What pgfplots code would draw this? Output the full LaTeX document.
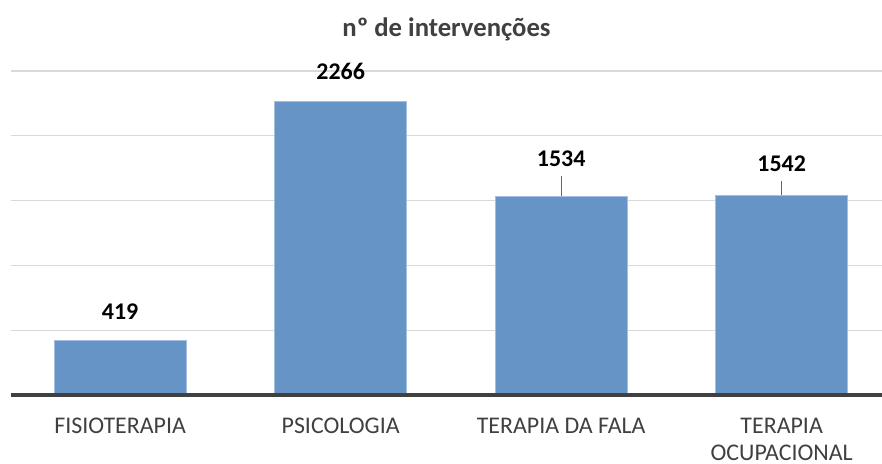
\documentclass[border=0pt]{standalone}
\usepackage{pgfplots}
\pgfplotsset{compat=1.18}
\usepackage{fontspec}
\setmainfont{Carlito}

\definecolor{barblue}{HTML}{6794C7}
\definecolor{baredge}{HTML}{A3BFE2}
\definecolor{txtgray}{HTML}{404040}
\definecolor{gridgray}{HTML}{D9D9D9}

\begin{document}
\begin{tikzpicture}
\begin{axis}[
    name=ax,
    scale only axis,
    width=435.5bp,
    height=162bp,
    ymin=0, ymax=2500,
    xmin=-0.495, xmax=3.455,
    ytick={500,1000,1500,2000,2500},
    yticklabels={},
    major tick length=0pt,
    ymajorgrids,
    grid style={gridgray, line width=0.6bp},
    axis line style={draw=none},
    xtick=data,
    xticklabels={FISIOTERAPIA, PSICOLOGIA, TERAPIA DA FALA, {TERAPIA\\OCUPACIONAL}},
    x tick label style={font=\fontsize{12}{13.5}\selectfont, text=txtgray, align=center, anchor=north, yshift=-8bp},
    title={\textbf{nº de intervenções}},
    title style={font=\fontsize{13.4}{15}\selectfont, text=txtgray, yshift=5.5bp},
    /pgf/number format/assume math mode=true,
    /pgf/number format/1000 sep={},
    clip=false,
]

% bars, label offset per bar (bp)
\addplot[ybar, bar width=66bp, fill=barblue, draw=baredge, line width=0.5bp,
    nodes near coords,
    visualization depends on={\thisrow{off} \as \labeloff},
    every node near coord/.append style={font=\bfseries\fontsize{12}{13}\selectfont, text=black, anchor=base, yshift=\labeloff bp},
] table {
x y off
0 419 10.5
1 2266 11
2 1534 15
3 1542 12
};

% leader lines
\addplot[draw=none, mark=none, forget plot,
    error bars/.cd, y dir=plus, y explicit, error mark=none,
    error bar style={draw=gray!80!black, line width=0.6bp}]
  coordinates {
    (2,1534) +- (0,155)
    (3,1542) +- (0,108)
  };

% baseline
\draw[txtgray, line width=1.6bp] (rel axis cs:0,0) -- (rel axis cs:1,0);
\end{axis}
\pgfresetboundingbox
\path ([xshift=-5.5bp,yshift=-34.5bp]ax.south west) rectangle ([yshift=35.5bp]ax.north east);
\end{tikzpicture}
\end{document}
